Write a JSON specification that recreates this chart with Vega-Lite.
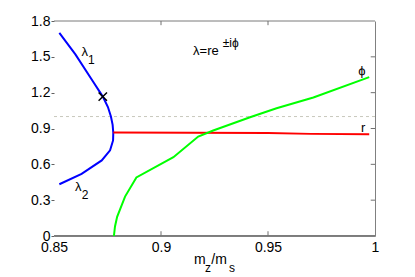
{
  "$schema": "https://vega.github.io/schema/vega-lite/v6.json",
  "width": 321,
  "height": 215,
  "autosize": "none",
  "padding": {"left": 54, "top": 21, "right": 40, "bottom": 41},
  "background": "white",
  "config": {
    "view": {"stroke": null},
    "font": "Liberation Sans",
    "axis": {
      "labelFont": "Liberation Sans",
      "labelFontSize": 14,
      "labelColor": "#000000",
      "domainColor": "#808080",
      "domainWidth": 1,
      "tickColor": "#808080",
      "grid": false,
      "labelFlush": false,
      "labelOverlap": false
    }
  },
  "resolve": {"axis": {"y": "independent"}},
  "layer": [
    {
      "data": {"values": [{"level": 1.0}]},
      "mark": {"type": "rule", "strokeWidth": 1, "color": "#c8c8bc", "strokeDash": [3, 3]},
      "encoding": {
        "y": {"field": "level", "type": "quantitative",
          "scale": {"domain": [0, 1.8], "nice": false, "zero": false},
          "axis": {"orient": "left", "values": [0, 0.3, 0.6, 0.9, 1.2, 1.5, 1.8], "format": "~g", "title": null,
            "domain": false, "tickSize": 3, "labelPadding": 1, "tickColor": "#606060"}}
      }
    },
    {
      "data": {"values": [{"level": 0.004}, {"level": 1.8}]},
      "mark": {"type": "rule", "strokeWidth": 1, "color": "#7a7a7a"},
      "encoding": {
        "y": {"field": "level", "type": "quantitative", "axis": null}
      }
    },
    {
      "data": {"values": [
        {"s": "lambda", "o": 1, "x": 0.8525, "y": 1.70},
        {"s": "lambda", "o": 2, "x": 0.8600, "y": 1.52},
        {"s": "lambda", "o": 3, "x": 0.8680, "y": 1.30},
        {"s": "lambda", "o": 4, "x": 0.8728, "y": 1.167},
        {"s": "lambda", "o": 5, "x": 0.8752, "y": 1.08},
        {"s": "lambda", "o": 6, "x": 0.8766, "y": 1.00},
        {"s": "lambda", "o": 7, "x": 0.8774, "y": 0.93},
        {"s": "lambda", "o": 8, "x": 0.8777, "y": 0.865},
        {"s": "lambda", "o": 9, "x": 0.8776, "y": 0.80},
        {"s": "lambda", "o": 10, "x": 0.8762, "y": 0.717},
        {"s": "lambda", "o": 11, "x": 0.8723, "y": 0.633},
        {"s": "lambda", "o": 12, "x": 0.8629, "y": 0.52},
        {"s": "lambda", "o": 13, "x": 0.8525, "y": 0.433},
        {"s": "r", "o": 1, "x": 0.8777, "y": 0.866},
        {"s": "r", "o": 2, "x": 0.9500, "y": 0.862},
        {"s": "r", "o": 3, "x": 0.9700, "y": 0.855},
        {"s": "r", "o": 4, "x": 0.9973, "y": 0.852},
        {"s": "phi", "o": 1, "x": 0.8780, "y": 0.0},
        {"s": "phi", "o": 2, "x": 0.8785, "y": 0.08},
        {"s": "phi", "o": 3, "x": 0.8795, "y": 0.16},
        {"s": "phi", "o": 4, "x": 0.8832, "y": 0.33},
        {"s": "phi", "o": 5, "x": 0.8885, "y": 0.49},
        {"s": "phi", "o": 6, "x": 0.9058, "y": 0.66},
        {"s": "phi", "o": 7, "x": 0.9174, "y": 0.833},
        {"s": "phi", "o": 8, "x": 0.9244, "y": 0.883},
        {"s": "phi", "o": 9, "x": 0.9416, "y": 0.994},
        {"s": "phi", "o": 10, "x": 0.9540, "y": 1.07},
        {"s": "phi", "o": 11, "x": 0.9712, "y": 1.16},
        {"s": "phi", "o": 12, "x": 0.9973, "y": 1.33}
      ]},
      "mark": {"type": "line", "strokeWidth": 2},
      "encoding": {
        "x": {"field": "x", "type": "quantitative",
          "scale": {"domain": [0.85, 1.0], "nice": false, "zero": false},
          "axis": {"orient": "bottom", "values": [0.85, 0.9, 0.95, 1.0], "format": "~g", "title": null,
            "domain": true, "ticks": false, "tickSize": 0, "labelPadding": 4}},
        "y": {"field": "y", "type": "quantitative",
          "axis": {"orient": "right", "values": [0, 0.3, 0.6, 0.9, 1.2, 1.5, 1.8], "title": null,
            "labels": false, "domain": true, "ticks": false, "tickSize": 0}},
        "color": {"field": "s", "type": "nominal",
          "scale": {"domain": ["lambda", "r", "phi"], "range": ["#0000ff", "#ff0000", "#00ff00"]},
          "legend": null},
        "detail": {"field": "s"},
        "order": {"field": "o", "type": "quantitative"}
      }
    },
    {
      "data": {"values": [
        {"x": 0.9, "y": 0.004, "y2": 0.04},
        {"x": 0.95, "y": 0.004, "y2": 0.04},
        {"x": 0.9, "y": 1.765, "y2": 1.8},
        {"x": 0.95, "y": 1.765, "y2": 1.8}
      ]},
      "mark": {"type": "rule", "color": "#707070", "strokeWidth": 1},
      "encoding": {
        "x": {"field": "x", "type": "quantitative"},
        "y": {"field": "y", "type": "quantitative", "axis": null},
        "y2": {"field": "y2"}
      }
    },
    {
      "data": {"values": [
        {"x": 0.998, "x2": 1.0, "y": 0.3},
        {"x": 0.998, "x2": 1.0, "y": 0.6},
        {"x": 0.998, "x2": 1.0, "y": 0.9},
        {"x": 0.998, "x2": 1.0, "y": 1.2},
        {"x": 0.998, "x2": 1.0, "y": 1.5}
      ]},
      "mark": {"type": "rule", "color": "#707070", "strokeWidth": 1},
      "encoding": {
        "x": {"field": "x", "type": "quantitative"},
        "x2": {"field": "x2"},
        "y": {"field": "y", "type": "quantitative", "axis": null}
      }
    },
    {
      "data": {"values": [{"x": 0.8728, "y": 1.167}]},
      "mark": {"type": "point", "shape": "M-1,-1L1,1M-1,1L1,-1", "filled": false, "color": "#000000", "strokeWidth": 1.5, "size": 70, "opacity": 1},
      "encoding": {
        "x": {"field": "x", "type": "quantitative"},
        "y": {"field": "y", "type": "quantitative", "axis": null}
      }
    },
    {
      "data": {"values": [
        {"x": 0.8629, "y": 1.54, "t": "λ"},
        {"x": 0.8598, "y": 0.41, "t": "λ"},
        {"x": 0.9150, "y": 1.55, "t": "λ=re"},
        {"x": 0.9922, "y": 1.383, "t": "ϕ"},
        {"x": 0.9935, "y": 0.905, "t": "r"}
      ]},
      "mark": {"type": "text", "fontSize": 13, "color": "#000000", "align": "left", "baseline": "middle", "font": "Liberation Sans"},
      "encoding": {
        "x": {"field": "x", "type": "quantitative"},
        "y": {"field": "y", "type": "quantitative", "axis": null},
        "text": {"field": "t"}
      }
    },
    {
      "data": {"values": [
        {"x": 0.8659, "y": 1.475, "t": "1"},
        {"x": 0.8630, "y": 0.345, "t": "2"},
        {"x": 0.9288, "y": 1.62, "t": "±iϕ"}
      ]},
      "mark": {"type": "text", "fontSize": 12, "color": "#000000", "align": "left", "baseline": "middle", "font": "Liberation Sans"},
      "encoding": {
        "x": {"field": "x", "type": "quantitative"},
        "y": {"field": "y", "type": "quantitative", "axis": null},
        "text": {"field": "t"}
      }
    },
    {
      "data": {"values": [
        {"x": 0.9154, "y": -0.205, "t": "m"},
        {"x": 0.9235, "y": -0.205, "t": "/m"}
      ]},
      "mark": {"type": "text", "fontSize": 14, "color": "#000000", "align": "left", "baseline": "middle", "font": "Liberation Sans"},
      "encoding": {
        "x": {"field": "x", "type": "quantitative"},
        "y": {"field": "y", "type": "quantitative", "axis": null},
        "text": {"field": "t"}
      }
    },
    {
      "data": {"values": [
        {"x": 0.9206, "y": -0.265, "t": "z"},
        {"x": 0.9318, "y": -0.265, "t": "s"}
      ]},
      "mark": {"type": "text", "fontSize": 12, "color": "#000000", "align": "left", "baseline": "middle", "font": "Liberation Sans"},
      "encoding": {
        "x": {"field": "x", "type": "quantitative"},
        "y": {"field": "y", "type": "quantitative", "axis": null},
        "text": {"field": "t"}
      }
    }
  ]
}
